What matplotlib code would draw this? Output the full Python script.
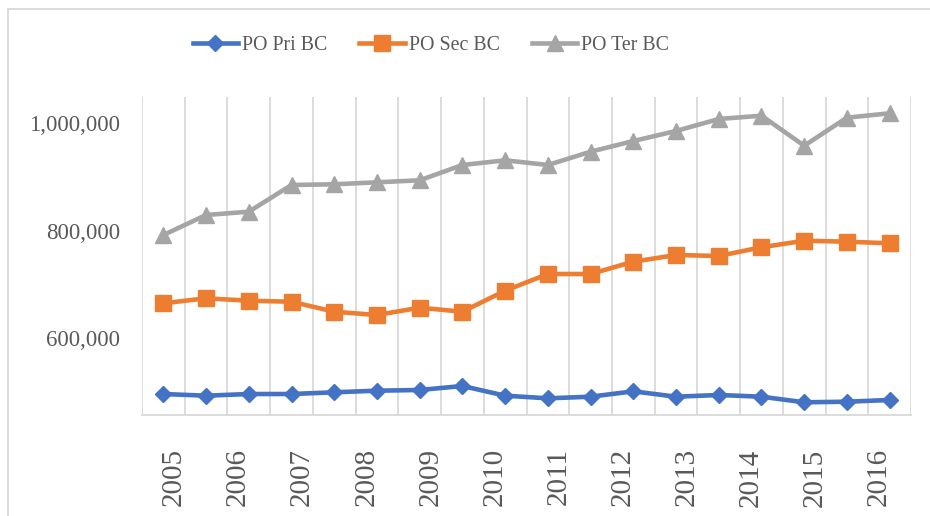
import numpy as np
import matplotlib.pyplot as plt
from matplotlib.patches import Rectangle

plt.rcParams['font.family'] = ['Liberation Serif', 'DejaVu Serif']

# 18 data points, 12 year labels spread evenly along the axis
years = ['2005', '2006', '2007', '2008', '2009', '2010',
         '2011', '2012', '2013', '2014', '2015', '2016']
po_pri = [496100, 493000, 496100, 496100, 499300, 502300, 503600, 511000, 493000,
          488100, 491100, 501100, 491100, 494300, 491100, 480700, 481800, 485000]
po_sec = [664900, 674200, 669700, 667800, 649200, 643100, 656700, 649200, 688300,
          719400, 719400, 742300, 754700, 752900, 769100, 781300, 779500, 776500]
po_ter = [791900, 829150, 835300, 885000, 886300, 890000, 893700, 922200, 930900,
          922200, 946900, 966800, 985400, 1007800, 1013900, 958100, 1010200, 1018400]

n = len(po_pri)
x = np.arange(n)

fig = plt.figure(figsize=(9.3, 5.16), dpi=100)
ax = fig.add_axes([142/930, 1 - 415/516, (911 - 142)/930, (415 - 97)/516])

grid_c = '#D9D9D9'
text_c = '#595959'

# vertical gridlines at category boundaries
for b in np.arange(n + 1) - 0.5:
    ax.axvline(b, color=grid_c, lw=1.3, zorder=0)

ax.plot(x, po_pri, color='#4472C4', lw=3.3, marker='D', ms=8.5, label='PO Pri BC', zorder=3)
ax.plot(x, po_sec, color='#ED7D31', lw=3.3, marker='s', ms=12, label='PO Sec BC', zorder=3)
ax.plot(x, po_ter, color='#A5A5A5', lw=3.3, marker='^', ms=12, label='PO Ter BC', zorder=3)

ax.set_xlim(-0.5, n - 0.5)
ax.set_ylim(457060, 1048690)

step = n / len(years)
ax.set_xticks(-0.5 + (np.arange(len(years)) + 0.5) * step)
ax.set_xticklabels(years, rotation=90, fontsize=21, color=text_c)
ax.set_yticks([600000, 800000, 1000000])
ax.set_yticklabels(['600,000', '800,000', '1,000,000'], fontsize=16.5, color=text_c)
ax.tick_params(axis='x', length=0, pad=24)
ax.tick_params(axis='y', length=0, pad=16)

for s in ['top', 'right', 'left']:
    ax.spines[s].set_visible(False)
ax.spines['bottom'].set_color(grid_c)
ax.spines['bottom'].set_linewidth(1.3)

fig.legend(loc='center', bbox_to_anchor=(431/930, 1 - 45/516), ncol=3, frameon=False,
           fontsize=14.3, labelcolor=text_c, handlelength=2.3, columnspacing=1.6,
           handletextpad=0.2)

# chart area border
fig.patches.append(Rectangle((8/930, -0.05), 1.1, 1 - 9/516 + 0.05, transform=fig.transFigure,
                             fill=False, edgecolor=grid_c, lw=1.3))

fig.savefig('out.png', dpi=100)
